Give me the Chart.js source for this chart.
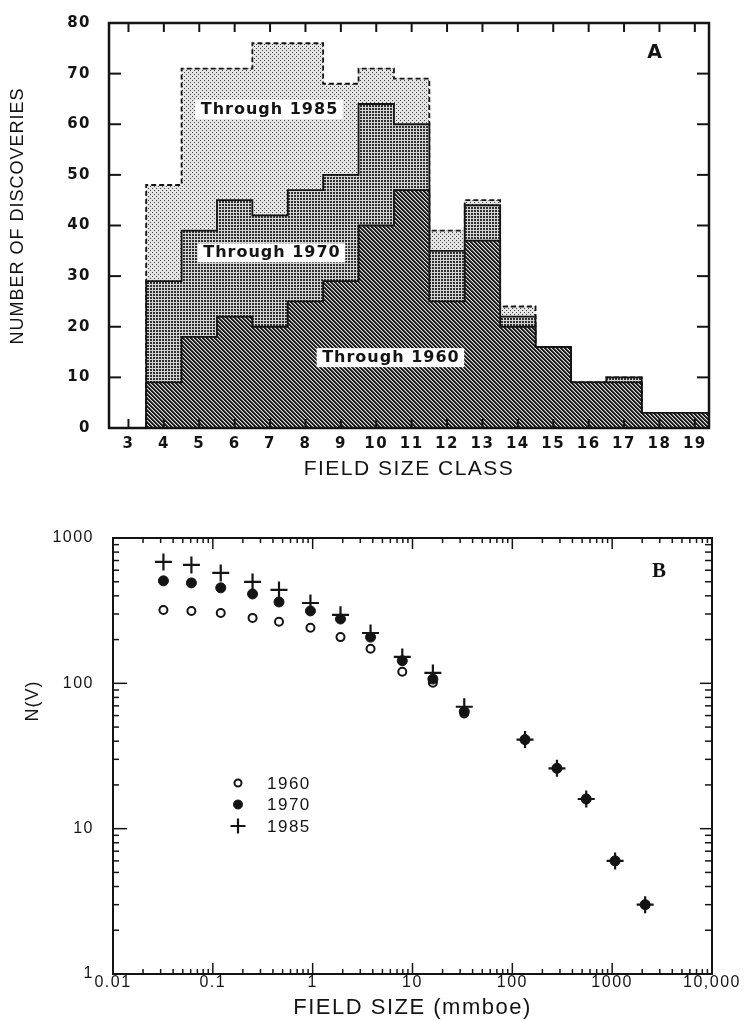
<!DOCTYPE html>
<html>
<head>
<meta charset="utf-8">
<title>Field size distributions</title>
<script src="https://cdn.jsdelivr.net/npm/chart.js@4.4.1/dist/chart.umd.min.js"></script>
<style>
  html, body { margin: 0; padding: 0; background: #fff; }
  body { width: 750px; height: 1021px; position: relative; overflow: hidden; }
  canvas { position: absolute; left: 0; }
  #histA { top: 0; }
  #logB { top: 500px; }
</style>
</head>
<body>
<canvas id="histA" width="750" height="495"></canvas>
<canvas id="logB" width="750" height="521"></canvas>
<script>
// ---- panel A: number of discoveries per field size class ----
const classes  = [4, 5, 6, 7, 8, 9, 10, 11, 12, 13, 14, 15, 16, 17, 18, 19];
const thru1960 = [9, 18, 22, 20, 25, 29, 40, 47, 25, 37, 20, 16, 9, 9, 3, 3];
const thru1970 = [29, 39, 45, 42, 47, 50, 64, 60, 35, 44, 22, 16, 9, 10, 3, 3];
const thru1985 = [48, 71, 71, 76, 76, 68, 71, 69, 39, 45, 24, 16, 9, 10, 3, 3];
const classTicks = [3, 4, 5, 6, 7, 8, 9, 10, 11, 12, 13, 14, 15, 16, 17, 18, 19];
const countTicks = [0, 10, 20, 30, 40, 50, 60, 70, 80];

// ---- panel B: cumulative number of fields N(V) vs field size ----
const fieldSize = [0.032, 0.061, 0.12, 0.25, 0.46, 0.95, 1.9, 3.8, 7.9, 16, 33, 134, 280, 550, 1070, 2140];
const n1960 = [320, 315, 305, 282, 265, 241, 208, 173, 120, 101, 62, 41, 26, 16, 6, 3];
const n1970 = [507, 491, 454, 412, 363, 315, 277, 208, 143, 107, 64, 41, 26, 16, 6, 3];
const n1985 = [685, 653, 575, 499, 439, 357, 296, 222, 152, 118, 69, 41, 26, 16, 6, 3];
const sizeTicks = [0.01, 0.1, 1, 10, 100, 1000, 10000];
const sizeTickLabels = ['0.01', '0.1', '1', '10', '100', '1000', '10,000'];
const nTicks = [1, 10, 100, 1000];
const nTickLabels = ['1', '10', '100', '1000'];

const INK = '#141414';
const SANS = '"Liberation Sans", Arial, sans-serif';
const BOLD_SANS = '"DejaVu Sans", "Liberation Sans", sans-serif';

// histogram outline: left bin edges, stepped so each class is a flat top
function stepPoints(vals) {
  const pts = [{ x: classes[0] - 0.5, y: 0 }];
  classes.forEach((c, i) => pts.push({ x: c - 0.5, y: vals[i] }));
  const last = classes[classes.length - 1] + 0.5;
  pts.push({ x: last, y: vals[vals.length - 1] });
  pts.push({ x: last, y: 0 });
  return pts;
}

function tilePattern(target, size, paint) {
  const c = document.createElement('canvas');
  c.width = c.height = size;
  paint(c.getContext('2d'));
  return target.createPattern(c, 'repeat');
}

function line(ctx, x1, y1, x2, y2) {
  ctx.beginPath();
  ctx.moveTo(x1, y1);
  ctx.lineTo(x2, y2);
  ctx.stroke();
}

function vText(ctx, text, x, y, font, spacing) {
  ctx.save();
  ctx.translate(x, y);
  ctx.rotate(-Math.PI / 2);
  ctx.font = font;
  ctx.letterSpacing = spacing;
  ctx.fillStyle = INK;
  ctx.textAlign = 'center';
  ctx.textBaseline = 'middle';
  ctx.fillText(text, 0, 0);
  ctx.restore();
}

// wide lettering for all chart text
const spacing = {
  id: 'spacing',
  beforeDraw(chart) { chart.ctx.letterSpacing = '1.5px'; }
};

const ctxA = document.getElementById('histA').getContext('2d');

const lightDots = tilePattern(ctxA, 4, g => {
  g.fillStyle = '#e4e4e4'; g.fillRect(0, 0, 4, 4);
  g.fillStyle = '#444444'; g.fillRect(0, 0, 1, 1); g.fillRect(2, 2, 1, 1);
});
const darkDots = tilePattern(ctxA, 3, g => {
  g.fillStyle = '#d4d4d4'; g.fillRect(0, 0, 3, 3);
  g.fillStyle = '#303030'; g.fillRect(0, 0, 2, 2);
});
const hatch = tilePattern(ctxA, 4, g => {
  for (let x = 0; x < 4; x++) {
    for (let y = 0; y < 4; y++) {
      const k = ((x - y) % 4 + 4) % 4;
      g.fillStyle = k < 2 ? '#1c1c1c' : (k === 2 ? '#6a6a6a' : '#dedede');
      g.fillRect(x, y, 1, 1);
    }
  }
});

const labelsA = [
  { text: 'Through 1985', x: 6.97, y: 63.0 },
  { text: 'Through 1970', x: 7.04, y: 34.7 },
  { text: 'Through 1960', x: 10.4, y: 14.0 }
];

const decorA = {
  id: 'decorA',
  afterDatasetsDraw(chart) {
    const { ctx, chartArea: a, scales: { x, y } } = chart;
    ctx.save();
    ctx.strokeStyle = INK;
    ctx.lineWidth = 2;
    classTicks.forEach(v => {
      const px = x.getPixelForValue(v);
      line(ctx, px, a.bottom, px, a.bottom - 9);
      line(ctx, px, a.top, px, a.top + 9);
    });
    countTicks.forEach(v => {
      const py = y.getPixelForValue(v);
      line(ctx, a.left, py, a.left + 12, py);
      line(ctx, a.right, py, a.right - 12, py);
    });
    ctx.lineWidth = 2.5;
    ctx.strokeRect(a.left, a.top, a.right - a.left, a.bottom - a.top);

    // boxed series labels
    ctx.font = 'bold 16px ' + BOLD_SANS;
    ctx.letterSpacing = '1px';
    ctx.textAlign = 'center';
    ctx.textBaseline = 'middle';
    labelsA.forEach(l => {
      const cx = x.getPixelForValue(l.x), cy = y.getPixelForValue(l.y);
      const w = ctx.measureText(l.text).width + 10;
      ctx.fillStyle = '#fff';
      ctx.fillRect(cx - w / 2, cy - 9, w, 19);
      ctx.fillStyle = INK;
      ctx.fillText(l.text, cx + 0.5, cy + 1);
    });

    ctx.font = 'bold 19px ' + BOLD_SANS;
    ctx.fillText('A', a.right - 54, a.top + 30);
    ctx.restore();

    vText(ctx, 'NUMBER OF DISCOVERIES', 18, 216, '18px ' + SANS, '1px');
  }
};

new Chart(ctxA, {
  type: 'line',
  data: {
    datasets: [
      { label: 'Through 1960', data: stepPoints(thru1960), backgroundColor: hatch, order: 1 },
      { label: 'Through 1970', data: stepPoints(thru1970), backgroundColor: darkDots, order: 2 },
      { label: 'Through 1985', data: stepPoints(thru1985), backgroundColor: lightDots, borderDash: [5, 3], order: 3 }
    ].map(d => Object.assign({
      stepped: true, fill: 'origin', borderColor: INK, borderWidth: 1.8, pointRadius: 0, tension: 0
    }, d))
  },
  options: {
    responsive: false,
    animation: false,
    devicePixelRatio: 1,
    layout: { padding: { top: 23, right: 41, left: 0, bottom: 0 } },
    plugins: { legend: { display: false }, tooltip: { enabled: false } },
    scales: {
      x: {
        type: 'linear', min: 2.45, max: 19.4,
        afterBuildTicks: s => { s.ticks = classTicks.map(v => ({ value: v })); },
        afterFit: s => { s.height = 67; },
        grid: { display: false }, border: { display: false },
        ticks: { padding: -1, color: INK, autoSkip: false, maxRotation: 0, font: { family: BOLD_SANS, size: 15, weight: 'bold' } },
        title: { display: true, text: 'FIELD SIZE CLASS', color: INK, padding: { top: 0, bottom: 13 }, font: { family: SANS, size: 21 } }
      },
      y: {
        min: 0, max: 80,
        afterBuildTicks: s => { s.ticks = countTicks.map(v => ({ value: v })); },
        afterFit: s => { s.width = 109; },
        grid: { display: false }, border: { display: false },
        ticks: { padding: 10, color: INK, font: { family: BOLD_SANS, size: 15, weight: 'bold' } }
      }
    }
  },
  plugins: [spacing, decorA]
});

// ---- panel B ----
const ctxB = document.getElementById('logB').getContext('2d');

const decorB = {
  id: 'decorB',
  afterDatasetsDraw(chart) {
    const { ctx, chartArea: a, scales: { x, y } } = chart;
    ctx.save();
    ctx.strokeStyle = INK;
    ctx.lineWidth = 1.5;
    sizeTicks.forEach(dec => {
      for (let k = 1; k <= 9; k++) {
        const v = k * dec;
        if (v > x.max * 1.0001) break;
        const px = x.getPixelForValue(v);
        const len = k === 1 ? 11 : 5;
        line(ctx, px, a.bottom, px, a.bottom - len);
        line(ctx, px, a.top, px, a.top + len);
      }
    });
    nTicks.forEach(dec => {
      for (let k = 1; k <= 9; k++) {
        const v = k * dec;
        if (v > y.max * 1.0001) break;
        const py = y.getPixelForValue(v);
        line(ctx, a.left, py, a.left + (k === 1 ? 14 : 6), py);
        line(ctx, a.right, py, a.right - (k === 1 ? 12 : 7), py);
      }
    });
    ctx.lineWidth = 2;
    ctx.strokeRect(a.left, a.top, a.right - a.left, a.bottom - a.top);

    ctx.fillStyle = INK;
    ctx.textBaseline = 'middle';
    ctx.textAlign = 'center';
    ctx.font = 'bold 21px "Liberation Serif", "DejaVu Serif", serif';
    ctx.letterSpacing = '0px';
    ctx.fillText('B', a.right - 53, a.top + 34);

    // legend, 1960 / 1970 / 1985 from the top
    const draw = Chart.helpers && Chart.helpers.drawPoint;
    chart.data.datasets.forEach((ds, i) => {
      const ly = a.top + 245 + i * 21.5;
      const lx = a.left + 125;
      if (draw) {
        ctx.save();
        ctx.fillStyle = ds.pointBackgroundColor;
        ctx.strokeStyle = ds.pointBorderColor;
        ctx.lineWidth = ds.pointBorderWidth;
        draw(ctx, { pointStyle: ds.pointStyle, radius: ds.legendRadius, rotation: 0, borderWidth: ds.pointBorderWidth }, lx, ly);
        ctx.restore();
      }
      ctx.font = '17px ' + SANS;
      ctx.letterSpacing = '1.5px';
      ctx.textAlign = 'left';
      ctx.fillText(ds.label, a.left + 154, ly + 1);
    });
    ctx.restore();

    vText(ctx, 'N(V)', 33, 201, '18px ' + SANS, '1px');
  }
};

new Chart(ctxB, {
  type: 'scatter',
  data: {
    datasets: [
      {
        label: '1960', data: fieldSize.map((x, i) => ({ x, y: n1960[i] })),
        pointStyle: 'circle', pointRadius: 4, legendRadius: 3.5, pointBorderWidth: 2,
        pointBackgroundColor: '#fff', pointBorderColor: INK, order: 3
      },
      {
        label: '1970', data: fieldSize.map((x, i) => ({ x, y: n1970[i] })),
        pointStyle: 'circle', pointRadius: 5, legendRadius: 4.5, pointBorderWidth: 1,
        pointBackgroundColor: INK, pointBorderColor: INK, order: 2
      },
      {
        label: '1985', data: fieldSize.map((x, i) => ({ x, y: n1985[i] })),
        pointStyle: 'cross', pointRadius: 8.5, legendRadius: 7.5, pointBorderWidth: 2.2,
        pointBackgroundColor: INK, pointBorderColor: INK, order: 1
      }
    ]
  },
  options: {
    responsive: false,
    animation: false,
    devicePixelRatio: 1,
    layout: { padding: { top: 38, right: 38, left: 0, bottom: 0 } },
    plugins: { legend: { display: false }, tooltip: { enabled: false } },
    scales: {
      x: {
        type: 'logarithmic', min: 0.01, max: 10000,
        afterBuildTicks: s => { s.ticks = sizeTicks.map(v => ({ value: v })); },
        afterFit: s => { s.height = 47; },
        grid: { display: false }, border: { display: false },
        ticks: {
          padding: -9, color: INK, autoSkip: false, maxRotation: 0,
          font: { family: SANS, size: 16 },
          callback: (v, i) => sizeTickLabels[i]
        },
        title: { display: true, text: 'FIELD SIZE (mmboe)', color: INK, padding: { top: 0, bottom: 0 }, font: { family: SANS, size: 22 } }
      },
      y: {
        type: 'logarithmic', min: 1, max: 1000,
        afterBuildTicks: s => { s.ticks = nTicks.map(v => ({ value: v })); },
        afterFit: s => { s.width = 113; },
        grid: { display: false }, border: { display: false },
        ticks: {
          padding: 11, color: INK,
          font: { family: SANS, size: 16 },
          callback: (v, i) => nTickLabels[i]
        }
      }
    }
  },
  plugins: [spacing, decorB]
});
</script>
</body>
</html>
